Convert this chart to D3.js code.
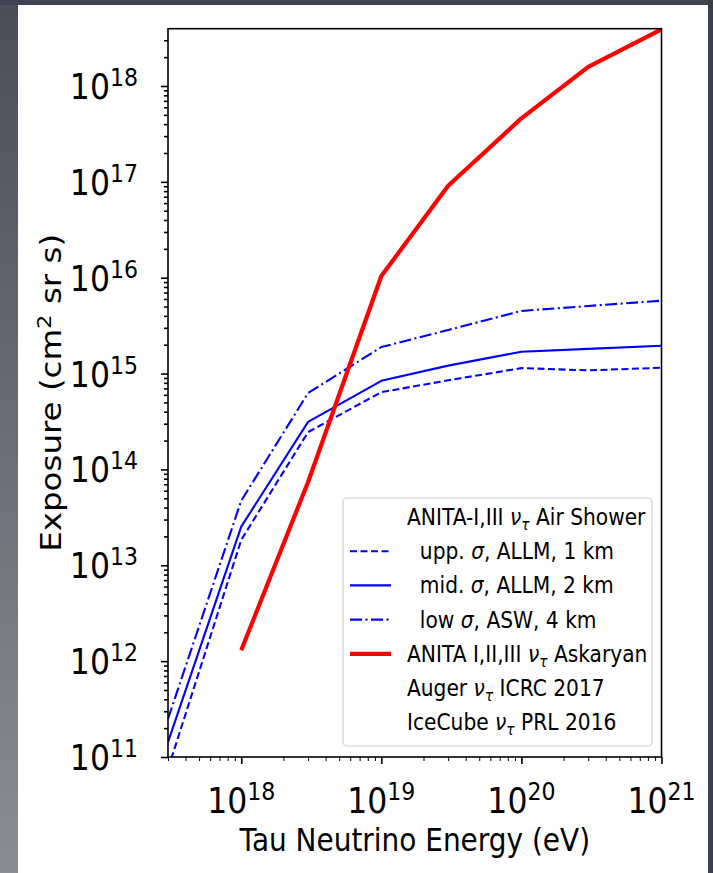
<!DOCTYPE html>
<html>
<head>
<meta charset="utf-8">
<script src="https://cdn.jsdelivr.net/npm/d3@7"></script>
<style>
  html, body { margin: 0; padding: 0; background: #5a5e69; }
  svg { display: block; }
  text { font-family: "DejaVu Sans", sans-serif; fill: #000; white-space: pre; }
</style>
</head>
<body>
<svg id="chart" width="713" height="873"></svg>
<script>
// Tau neutrino energies (eV) at which the air-shower exposures are evaluated
const energies = [3e17, 1e18, 3e18, 1e19, 3e19, 1e20, 3e20, 1e21];

// ANITA-I,III air-shower exposure (cm^2 sr s) for three cross-section / ice-depth choices
const uppAllm1km = [7.5e10, 1.84e13, 2.45e14, 6.4e14, 8.5e14, 1.14e15, 1.08e15, 1.15e15];
const midAllm2km = [1.43e11, 2.53e13, 3.13e14, 8.4e14, 1.21e15, 1.69e15, 1.81e15, 1.95e15];
const lowAsw4km  = [2.5e11, 4.72e13, 6.27e14, 1.89e15, 2.85e15, 4.5e15, 5.07e15, 5.76e15];

// ANITA I,II,III Askaryan exposure
const askaryanEnergies = [1e18, 3e18, 1e19, 3e19, 1e20, 3e20, 1e21];
const askaryanExposure = [1.3e12, 7.4e13, 1.04e16, 9.1e16, 4.6e17, 1.58e18, 3.9e18];

// Axis ticks (powers of ten)
const xTickExponents = [18, 19, 20, 21];
const yTickExponents = [11, 12, 13, 14, 15, 16, 17, 18];

const xLabel = "Tau Neutrino Energy (eV)";

// Legend rows: text segments (italic / subscript) and line style key
const legendRows = [
  { style: null,      parts: [{t: "ANITA-I,III "}, {t: "\u03bd", i: true}, {t: "\u03c4", i: true, sub: true}, {t: " Air Shower"}] },
  { style: "dashed",  parts: [{t: "  upp. "}, {t: "\u03c3", i: true}, {t: ", ALLM, 1 km"}] },
  { style: "solid",   parts: [{t: "  mid. "}, {t: "\u03c3", i: true}, {t: ", ALLM, 2 km"}] },
  { style: "dashdot", parts: [{t: "  low "}, {t: "\u03c3", i: true}, {t: ", ASW, 4 km"}] },
  { style: "red",     parts: [{t: "ANITA I,II,III "}, {t: "\u03bd", i: true}, {t: "\u03c4", i: true, sub: true}, {t: " Askaryan"}] },
  { style: null,      parts: [{t: "Auger "}, {t: "\u03bd", i: true}, {t: "\u03c4", i: true, sub: true}, {t: " ICRC 2017"}] },
  { style: null,      parts: [{t: "IceCube "}, {t: "\u03bd", i: true}, {t: "\u03c4", i: true, sub: true}, {t: " PRL 2016"}] }
];

// ---------------------------------------------------------------------------
const W = 713, H = 873;
const SX = 0.86;               // horizontal glyph compression of the lettering
const SX_TICK = 0.9;           // same, for the power-of-ten tick labels
const plot = { left: 168, right: 661.5, top: 28.7, bottom: 757 };

const styles = {
  dashed:  { stroke: "#0000ff", width: 2.1, dash: "7,3.5" },
  solid:   { stroke: "#0000ff", width: 2.1, dash: null },
  dashdot: { stroke: "#0000ff", width: 2.1, dash: "12,3.5,2,3.5" },
  red:     { stroke: "#ff0000", width: 4.2, dash: null }
};

const svg = d3.select("#chart");
const defs = svg.append("defs");

// backdrop around the white sheet
const grad = defs.append("linearGradient").attr("id", "backdrop")
  .attr("x1", 0).attr("y1", 0).attr("x2", 0).attr("y2", 1);
grad.append("stop").attr("offset", 0).attr("stop-color", "#4a4e5b");
grad.append("stop").attr("offset", 1).attr("stop-color", "#8a8d94");
svg.append("rect").attr("width", W).attr("height", H).attr("fill", "url(#backdrop)");
svg.append("rect").attr("x", 0).attr("y", 0).attr("width", W).attr("height", 5).attr("fill", "#3f4351");
svg.append("rect").attr("x", 708).attr("y", 0).attr("width", 5).attr("height", H).attr("fill", "#3c3f4b");
svg.append("rect").attr("x", 18).attr("y", 5).attr("width", 690).attr("height", H - 5).attr("fill", "#ffffff");

defs.append("clipPath").attr("id", "plotClip").append("rect")
  .attr("x", plot.left).attr("y", plot.top)
  .attr("width", plot.right - plot.left).attr("height", plot.bottom - plot.top);

const x = d3.scaleLog().domain([3e17, 1e21]).range([plot.left, plot.right]);
const y = d3.scaleLog().domain([1e11, 3.96e18]).range([plot.bottom, plot.top]);

// ---- ticks ----------------------------------------------------------------
function minorTicks(scale, lo, hi) {
  const out = [];
  const [d0, d1] = scale.domain();
  for (let e = lo; e <= hi; e++) {
    for (let m = 2; m <= 9; m++) {
      const v = m * Math.pow(10, e);
      if (v >= d0 * 0.999 && v <= d1 * 1.001) out.push(v);
    }
  }
  return out;
}

const xMajor = xTickExponents.map(e => Math.pow(10, e));
const yMajor = yTickExponents.map(e => Math.pow(10, e));

const axX = svg.append("g").attr("transform", `translate(0,${plot.bottom})`);
axX.append("g").call(d3.axisBottom(x).tickValues(minorTicks(x, 17, 20)).tickFormat("").tickSize(4).tickSizeOuter(0));
axX.append("g").call(d3.axisBottom(x).tickValues(xMajor).tickFormat("").tickSize(7).tickSizeOuter(0));
const axY = svg.append("g").attr("transform", `translate(${plot.left},0)`);
axY.append("g").call(d3.axisLeft(y).tickValues(minorTicks(y, 11, 18)).tickFormat("").tickSize(4).tickSizeOuter(0));
axY.append("g").call(d3.axisLeft(y).tickValues(yMajor).tickFormat("").tickSize(7).tickSizeOuter(0));
svg.selectAll(".domain").remove();
svg.selectAll(".tick line").attr("stroke", "#000").attr("stroke-width", 1);
axX.selectAll("g:last-child .tick line").attr("stroke-width", 1.6);
axY.selectAll("g:last-child .tick line").attr("stroke-width", 1.6);

// power-of-ten label
function powerLabel(g, px, py, exp, anchor) {
  const t = g.append("text")
    .attr("transform", `translate(${px},${py}) scale(${SX_TICK},1)`)
    .attr("text-anchor", anchor)
    .style("font-size", "35px");
  t.append("tspan").text("10");
  t.append("tspan").attr("dy", -13).style("font-size", "24.5px").text(String(exp));
}
const labels = svg.append("g");
xTickExponents.forEach(e => powerLabel(labels, x(Math.pow(10, e)), 813, e, "middle"));
yTickExponents.forEach(e => powerLabel(labels, 138, y(Math.pow(10, e)) + 13, e, "end"));

// axis titles
labels.append("text")
  .attr("transform", `translate(${(plot.left + plot.right) / 2},851) scale(${SX},1)`)
  .attr("text-anchor", "middle").style("font-size", "32.5px").text(xLabel);
const yl = labels.append("text")
  .attr("transform", `translate(61,${(plot.top + plot.bottom) / 2}) scale(${SX},1) rotate(-90)`)
  .attr("text-anchor", "middle").style("font-size", "32.5px");
yl.append("tspan").text("Exposure (cm");
yl.append("tspan").attr("dy", -12).style("font-size", "22.7px").text("2");
yl.append("tspan").attr("dy", 12).text(" sr s)");

// ---- data lines -------------------------------------------------------------
const line = d3.line().x(d => x(d[0])).y(d => y(d[1]));
const series = [
  { values: uppAllm1km, e: energies, style: "dashed" },
  { values: midAllm2km, e: energies, style: "solid" },
  { values: lowAsw4km,  e: energies, style: "dashdot" },
  { values: askaryanExposure, e: askaryanEnergies, style: "red" }
];
const lines = svg.append("g").attr("clip-path", "url(#plotClip)");
series.forEach(s => {
  const st = styles[s.style];
  lines.append("path")
    .datum(s.e.map((e, i) => [e, s.values[i]]))
    .attr("d", line)
    .attr("fill", "none")
    .attr("stroke", st.stroke)
    .attr("stroke-width", st.width)
    .attr("stroke-dasharray", st.dash)
    .attr("stroke-linejoin", "round");
});

// ---- frame ------------------------------------------------------------------
svg.append("rect")
  .attr("x", plot.left).attr("y", plot.top)
  .attr("width", plot.right - plot.left).attr("height", plot.bottom - plot.top)
  .attr("fill", "none").attr("stroke", "#000").attr("stroke-width", 1.6);

// ---- legend -----------------------------------------------------------------
const lg = svg.append("g");
lg.append("rect")
  .attr("x", 343).attr("y", 498).attr("width", 309).attr("height", 248)
  .attr("rx", 4).attr("fill", "#fff").attr("fill-opacity", 0.85)
  .attr("stroke", "#d0d0d0").attr("stroke-width", 1.2);
legendRows.forEach((row, i) => {
  const cy = 517 + i * 34.2;
  if (row.style) {
    const st = styles[row.style];
    lg.append("line")
      .attr("x1", 350).attr("x2", 391).attr("y1", cy).attr("y2", cy)
      .attr("stroke", st.stroke).attr("stroke-width", st.width)
      .attr("stroke-dasharray", st.dash);
  }
  const t = lg.append("text")
    .attr("transform", `translate(407,${cy + 8}) scale(${SX},1)`)
    .style("font-size", "23.5px");
  let shifted = false;
  row.parts.forEach(p => {
    const ts = t.append("tspan").text(p.t);
    if (p.i) ts.style("font-style", "italic");
    if (p.sub) { ts.attr("dy", 5).style("font-size", "16px"); shifted = true; }
    else if (shifted) { ts.attr("dy", -5); shifted = false; }
  });
});
</script>
</body>
</html>
